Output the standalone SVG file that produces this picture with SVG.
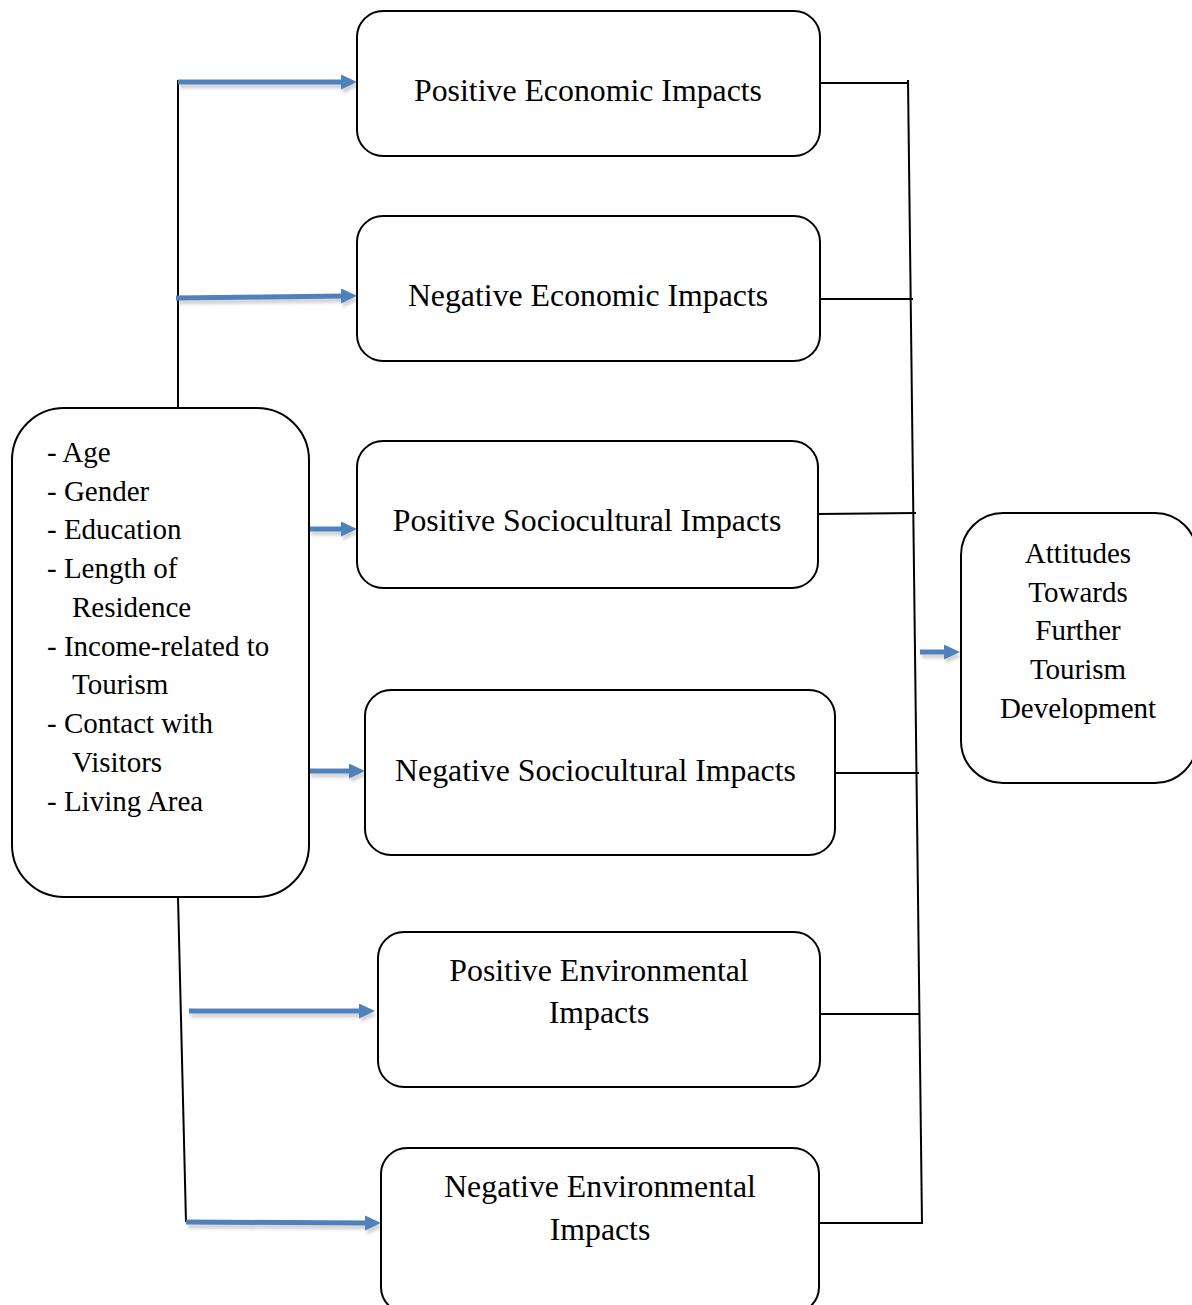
<svg xmlns="http://www.w3.org/2000/svg" width="1192" height="1305" viewBox="0 0 1192 1305">
<style>
  .box { fill: #ffffff; stroke: #000000; stroke-width: 2; }
  .t { font-family: "Liberation Serif", "Times New Roman", serif; fill: #000000; }
  .mid { font-size: 31.8px; text-anchor: middle; }
  .side { font-size: 29px; }
  .att { font-size: 29px; text-anchor: middle; }
  .ln { stroke: #000000; stroke-width: 2; fill: none; }
  .ar { stroke: #4F81BD; stroke-width: 5; fill: none; marker-end: url(#ah); filter: url(#sh); }
</style>
<defs>
  <marker id="ah" markerUnits="userSpaceOnUse" markerWidth="18" markerHeight="16" refX="4" refY="7.5" orient="auto">
    <path d="M0,0 L16,7.5 L0,15 Z" fill="#4F81BD"/>
  </marker>
  <filter id="sh" filterUnits="userSpaceOnUse" x="0" y="0" width="1192" height="1305">
    <feDropShadow dx="2" dy="4" stdDeviation="1.5" flood-color="#808080" flood-opacity="0.35"/>
  </filter>
</defs>
<rect width="1192" height="1305" fill="#ffffff"/>

<g id="connectors">
  <line class="ln" x1="178" y1="80" x2="178" y2="409"/>
  <line class="ln" x1="178" y1="897" x2="186" y2="1222"/>
  <line class="ln" x1="820" y1="83" x2="908" y2="83"/>
  <line class="ln" x1="908" y1="80" x2="922" y2="1224"/>
  <line class="ln" x1="820" y1="299" x2="913" y2="299"/>
  <line class="ln" x1="818" y1="514" x2="916" y2="513"/>
  <line class="ln" x1="835" y1="773" x2="919" y2="773"/>
  <line class="ln" x1="820" y1="1014" x2="920" y2="1014"/>
  <line class="ln" x1="819" y1="1223" x2="922" y2="1223"/>
  <line class="ar" x1="178" y1="82" x2="345" y2="82"/>
  <line class="ar" x1="176" y1="298" x2="345" y2="296"/>
  <line class="ar" x1="309" y1="529" x2="345" y2="529"/>
  <line class="ar" x1="309" y1="771" x2="353" y2="771"/>
  <line class="ar" x1="189" y1="1011" x2="363" y2="1011"/>
  <line class="ar" x1="186" y1="1222" x2="369" y2="1223"/>
  <line class="ar" x1="920" y1="652" x2="948" y2="652"/>
</g>

<g id="node-pos-econ">
  <rect class="box" x="357" y="11" width="463" height="145" rx="26"/>
  <text class="t mid" x="588" y="101">Positive Economic Impacts</text>
</g>
<g id="node-neg-econ">
  <rect class="box" x="357" y="216" width="463" height="145" rx="26"/>
  <text class="t mid" x="588" y="306">Negative Economic Impacts</text>
</g>
<g id="node-pos-socio">
  <rect class="box" x="357" y="441" width="461" height="147" rx="26"/>
  <text class="t mid" x="587" y="531">Positive Sociocultural Impacts</text>
</g>
<g id="node-neg-socio">
  <rect class="box" x="365" y="690" width="470" height="165" rx="26"/>
  <text class="t mid" x="595.5" y="781">Negative Sociocultural Impacts</text>
</g>
<g id="node-pos-env">
  <rect class="box" x="378" y="932" width="442" height="155" rx="26"/>
  <text class="t mid" x="599" y="981">Positive Environmental</text>
  <text class="t mid" x="599" y="1023">Impacts</text>
</g>
<g id="node-neg-env">
  <rect class="box" x="381" y="1148" width="438" height="165" rx="26"/>
  <text class="t mid" x="600" y="1197">Negative Environmental</text>
  <text class="t mid" x="600" y="1240">Impacts</text>
</g>
<g id="node-factors">
  <rect class="box" x="12" y="408" width="297" height="489" rx="52"/>
  <text class="t side" x="47" y="462">- Age</text>
  <text class="t side" x="47" y="500.7">- Gender</text>
  <text class="t side" x="47" y="539.4">- Education</text>
  <text class="t side" x="47" y="578">- Length of</text>
  <text class="t side" x="72" y="616.8">Residence</text>
  <text class="t side" x="47" y="655.5">- Income-related to</text>
  <text class="t side" x="72" y="694">Tourism</text>
  <text class="t side" x="47" y="733">- Contact with</text>
  <text class="t side" x="72" y="772">Visitors</text>
  <text class="t side" x="47" y="810.5">- Living Area</text>
</g>
<g id="node-attitudes">
  <rect class="box" x="961" y="513" width="236" height="270" rx="42"/>
  <text class="t att" x="1078" y="563">Attitudes</text>
  <text class="t att" x="1078" y="601.7">Towards</text>
  <text class="t att" x="1078" y="640">Further</text>
  <text class="t att" x="1078" y="679">Tourism</text>
  <text class="t att" x="1078" y="718">Development</text>
</g>
</svg>
